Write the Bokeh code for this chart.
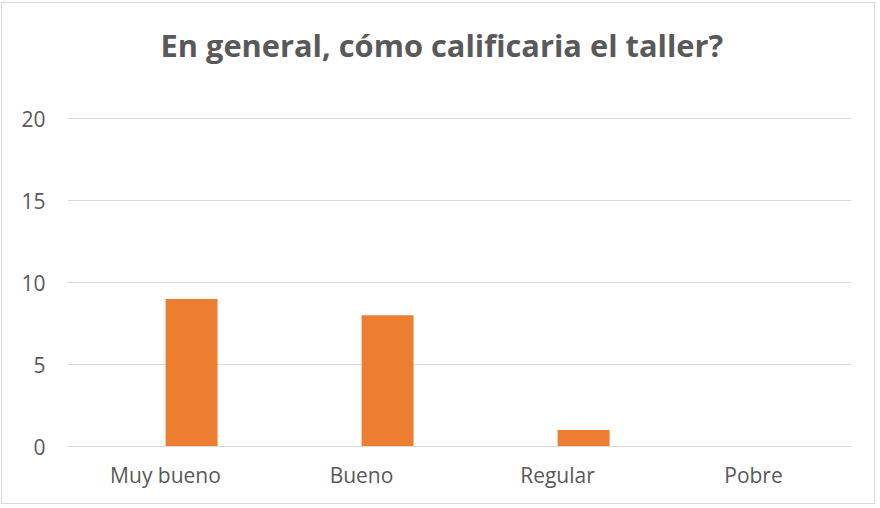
from bokeh.plotting import figure
from bokeh.models import FixedTicker, Range1d, Title
from bokeh.transform import dodge
from bokeh.embed import file_html
from bokeh.resources import INLINE

categories = ["Muy bueno", "Bueno", "Regular", "Pobre"]
values = [9, 8, 1, 0]
y_ticks = [0, 5, 10, 15, 20]
title_text = "En general, cómo calificaria el taller?"

FONT = "Open Sans"
TXT = "#595959"
GRID = "#D9D9D9"

p = figure(x_range=categories, y_range=Range1d(0, 20.07), width=874, height=502,
           output_backend="svg", toolbar_location=None,
           min_border_left=65, min_border_right=25, min_border_top=114, min_border_bottom=59)
p.styles = {"margin": "2px 0 0 1px", "border": "1px solid #d9d9d9"}
p.outline_line_color = None

# spacer between the frame and the title
p.add_layout(Title(text=" ", text_font_size="1px", standoff=47), "above")
p.add_layout(Title(text=title_text, align="left", offset=93, vertical_align="top",
                   standoff=0, text_font=FONT, text_font_style="bold",
                   text_font_size="30.8px", text_color=TXT), "above")

p.vbar(x=dodge("x", 0.133, range=p.x_range), top="top", width=0.265,
       source=dict(x=categories, top=values), color="#ED7D31", line_color=None)

p.yaxis.ticker = FixedTicker(ticks=y_ticks)
p.yaxis.axis_line_color = None
p.yaxis.major_tick_line_color = None
p.yaxis.minor_tick_line_color = None
p.yaxis.major_label_standoff = 16
p.yaxis.major_label_text_font = FONT
p.yaxis.major_label_text_font_size = "21px"
p.yaxis.major_label_text_color = TXT

p.xaxis.axis_line_color = GRID
p.xaxis.major_tick_line_color = None
p.xaxis.minor_tick_line_color = None
p.xaxis.major_label_standoff = 8
p.xaxis.major_label_text_font = FONT
p.xaxis.major_label_text_font_size = "21px"
p.xaxis.major_label_text_color = TXT

p.xgrid.grid_line_color = None
p.ygrid.grid_line_color = GRID
p.ygrid.ticker = FixedTicker(ticks=y_ticks)

open("out.html", "w").write(file_html(p, INLINE))
